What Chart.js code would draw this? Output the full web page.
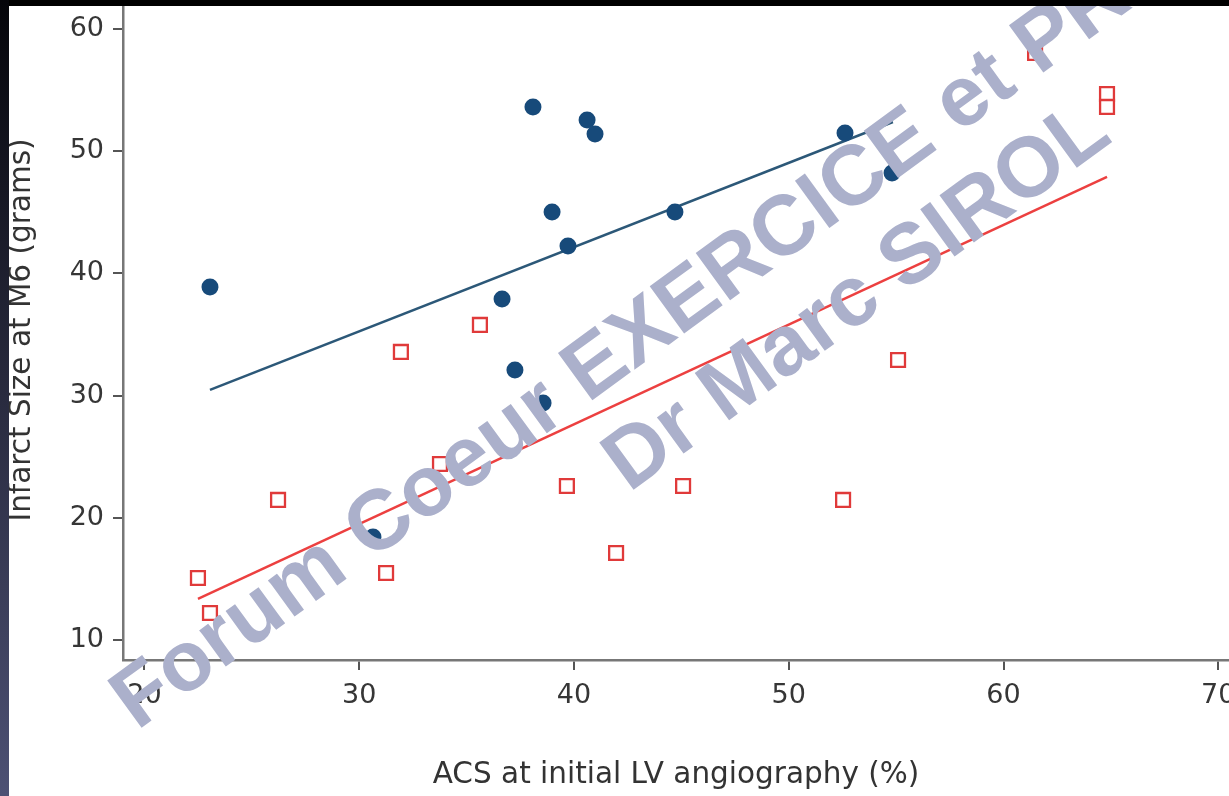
<!DOCTYPE html>
<html><head><meta charset="utf-8">
<script src="https://cdn.jsdelivr.net/npm/chart.js@4.4.1/dist/chart.umd.min.js"></script>
<style>
html,body{margin:0;padding:0;background:#fff;overflow:hidden;}
#wrap{position:relative;width:1229px;height:796px;overflow:hidden;background:#fff;}
#c{position:absolute;left:0;top:0;}
.wm{position:absolute;font-family:"Liberation Sans",Arial,sans-serif;font-weight:bold;font-size:85px;line-height:85px;color:#abb0cb;white-space:nowrap;transform-origin:0 72px;transform:rotate(-36deg);}
#topbar{position:absolute;left:0;top:0;width:1229px;height:6px;background:#000;}
#leftbar{position:absolute;left:0;top:0;width:9px;height:796px;background:linear-gradient(#05050a,#4d5174);}
</style></head>
<body>
<div id="wrap">
<canvas id="c" width="1229" height="796"></canvas>
<div class="wm" style="left:137px;top:659px;">Forum Coeur EXERCICE et PR</div>
<div class="wm" style="left:629px;top:421px;">Dr Marc SIROL</div>
<div id="topbar"></div>
<div id="leftbar"></div>
</div>
<script>
const xTicks=[20,30,40,50,60,70];
const yTicks=[10,20,30,40,50,60];
const blueX=[23.05,38.09,40.61,40.98,38.98,39.72,44.70,36.65,37.25,38.56,30.64,52.62,54.81];
const blueY=[38.89,53.62,52.55,51.41,45.02,42.24,45.02,37.90,32.09,29.39,18.43,51.49,48.22];
const redX=[22.49,23.05,26.22,31.25,31.94,33.76,35.62,39.67,41.96,45.08,52.53,55.09,61.47,64.82,64.82];
const redY=[15.07,12.21,21.46,15.48,33.57,24.40,35.78,22.60,17.12,22.60,21.46,32.91,58.04,54.68,53.62];
const blueFitX=[23.05,54.85];
const blueFitY=[30.46,52.39];
const redFitX=[22.49,64.82];
const redFitY=[13.36,47.89];
const xTitle='ACS at initial LV angiography (%)';
const yTitle='Infarct Size at M6 (grams)';

const toPts=(xs,ys)=>xs.map((x,i)=>({x:x,y:ys[i]}));
const tickFont={family:'"DejaVu Sans", Verdana, sans-serif',size:27};
const titleFont={family:'"DejaVu Sans", Verdana, sans-serif',size:29.5};

new Chart(document.getElementById('c'),{
  type:'scatter',
  data:{datasets:[
    {data:toPts(blueX,blueY),pointStyle:'circle',pointRadius:8.5,pointBackgroundColor:'#174a7a',pointBorderWidth:0,order:1},
    {data:toPts(redX,redY),pointStyle:'rect',pointRadius:9.8,pointBackgroundColor:'#ffffff',pointBorderColor:'#e03a3a',pointBorderWidth:2.3,order:1},
    {data:toPts(blueFitX,blueFitY),showLine:true,pointRadius:0,borderColor:'#2c5878',borderWidth:2.5,order:2},
    {data:toPts(redFitX,redFitY),showLine:true,pointRadius:0,borderColor:'#ec4040',borderWidth:2.5,order:2}
  ]},
  options:{
    responsive:false,animation:false,devicePixelRatio:1,
    layout:{padding:0,autoPadding:false},
    plugins:{legend:{display:false},tooltip:{enabled:false}},
    scales:{
      x:{type:'linear',min:19,max:70.5,
        afterBuildTicks:s=>{s.ticks=xTicks.map(v=>({value:v}));},
        afterFit:s=>{s.height=136;s.paddingLeft=0;s.paddingRight=0;},
        grid:{display:true,drawOnChartArea:false,drawTicks:true,tickLength:10,color:'#555',lineWidth:2},
        border:{display:true,color:'#777',width:2.5},
        ticks:{font:tickFont,color:'#363636',padding:10,maxRotation:0,autoSkip:false},
        title:{display:true,text:xTitle,font:titleFont,color:'#333',padding:{top:0,bottom:3}}
      },
      y:{type:'linear',min:8.363,max:62.37,
        afterBuildTicks:s=>{s.ticks=yTicks.map(v=>({value:v}));},
        afterFit:s=>{s.width=123;s.paddingTop=0;s.paddingBottom=0;},
        grid:{display:true,drawOnChartArea:false,drawTicks:true,tickLength:10,color:'#555',lineWidth:2},
        border:{display:true,color:'#777',width:2.5},
        ticks:{font:tickFont,color:'#363636',padding:9,autoSkip:false},
        title:{display:true,text:yTitle,font:titleFont,color:'#333',padding:{top:5,bottom:0}}
      }
    }
  }
});
</script>
</body></html>
